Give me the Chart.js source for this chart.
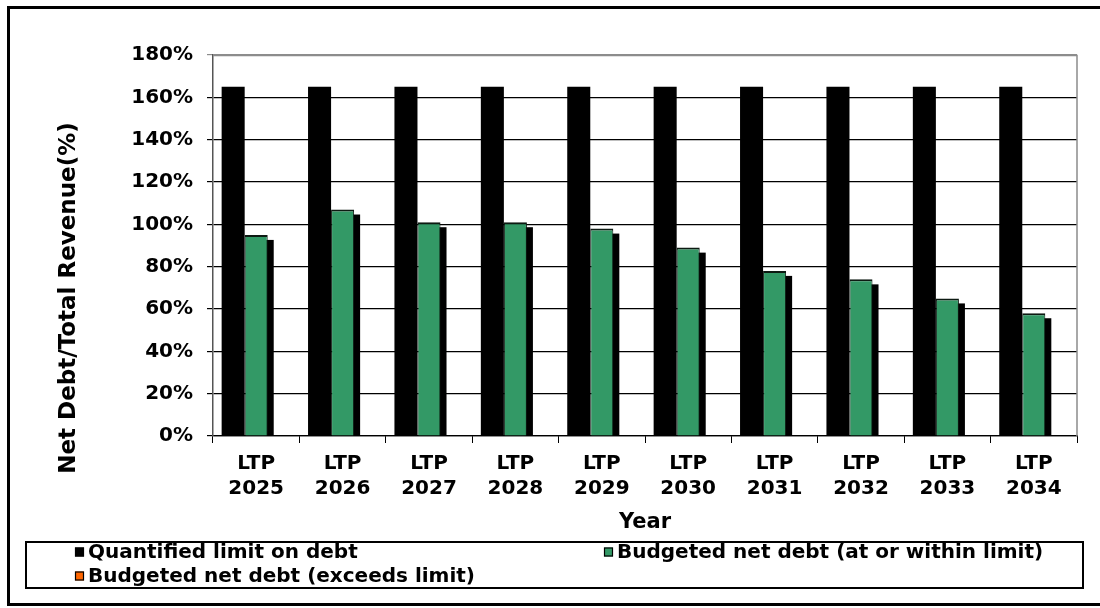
<!DOCTYPE html>
<html><head><meta charset="utf-8">
<script src="https://cdn.jsdelivr.net/npm/chart.js@4.4.1/dist/chart.umd.min.js"></script>
<style>html,body{margin:0;padding:0;background:#fff}#wrap{width:1100px;height:608px;position:relative}</style>
</head><body><div id="wrap"><canvas id="c" width="1100" height="608"></canvas></div>
<script>
const categories = [['LTP','2025'],['LTP','2026'],['LTP','2027'],['LTP','2028'],['LTP','2029'],['LTP','2030'],['LTP','2031'],['LTP','2032'],['LTP','2033'],['LTP','2034']];
const limitValues = [165,165,165,165,165,165,165,165,165,165];
const withinValues = [95,107,101,101,98,89,78,74,65,58];
const exceedsValues = [null,null,null,null,null,null,null,null,null,null];
const seriesNames = ['Quantified limit on debt','Budgeted net debt (at or within limit)','Budgeted net debt (exceeds limit)'];
const seriesColors = ['#000000','#339966','#FF6600'];
const yTickStep = 20;
const yMin = 0, yMax = 180;
const yTitle = 'Net Debt/Total Revenue(%)';
const xTitle = 'Year';

const FONT = "'DejaVu Sans', Verdana, sans-serif";
Chart.defaults.font.family = FONT;
Chart.defaults.color = '#000';

const shadowPlugin = {
  id: 'shadow',
  beforeDatasetDraw(chart, args) {
    if (args.index !== 1) return;
    const ctx = chart.ctx, a = chart.chartArea;
    ctx.save();
    ctx.beginPath(); ctx.rect(a.left, a.top, a.right - a.left, a.bottom - a.top); ctx.clip();
    ctx.fillStyle = '#000';
    args.meta.data.forEach(el => {
      const p = el.getProps(['x','y','base','width'], true);
      if (p.y == null || isNaN(p.y)) return;
      ctx.fillRect(p.x - p.width/2 + 6, p.y + 5, p.width, p.base - p.y);
    });
    ctx.restore();
  }
};

const framePlugin = {
  id: 'frame',
  beforeDatasetsDraw(chart) {
    const ctx = chart.ctx, a = chart.chartArea;
    ctx.save();
    ctx.strokeStyle = '#8c8c8c'; ctx.lineWidth = 1.5;
    ctx.beginPath();
    ctx.moveTo(a.left, a.top + 0.5); ctx.lineTo(a.right, a.top + 0.5); ctx.lineTo(a.right, a.bottom);
    ctx.stroke();
    ctx.restore();
  },
  afterDraw(chart) {
    const ctx = chart.ctx;
    ctx.save();
    // outer frame
    ctx.strokeStyle = '#000'; ctx.lineWidth = 3;
    ctx.beginPath();
    ctx.moveTo(1105, 7.5); ctx.lineTo(8.5, 7.5); ctx.lineTo(8.5, 604.5); ctx.lineTo(1105, 604.5);
    ctx.stroke();
    // y title
    ctx.save();
    ctx.translate(69, 298);
    ctx.rotate(-Math.PI/2);
    ctx.font = "bold 23px " + FONT;
    ctx.textAlign = 'center'; ctx.textBaseline = 'middle'; ctx.fillStyle = '#000';
    ctx.fillText(yTitle, 0, 0);
    ctx.restore();
    // legend box
    ctx.lineWidth = 2; ctx.strokeStyle = '#000';
    ctx.strokeRect(26, 542, 1057, 46);
    const pos = [[75, 552], [604, 552], [75, 576]];
    ctx.font = "bold 20px " + FONT;
    ctx.textBaseline = 'middle'; ctx.textAlign = 'left';
    chart.data.datasets.forEach((ds, i) => {
      const [x, y] = pos[i];
      ctx.fillStyle = ds.backgroundColor;
      ctx.fillRect(x, y - 4.5, 9, 9);
      ctx.lineWidth = 1.2; ctx.strokeStyle = '#000';
      ctx.strokeRect(x + 0.5, y - 4, 8, 8);
      ctx.fillStyle = '#000';
      ctx.fillText(ds.label, x + 13, y + 1);
    });
    ctx.restore();
  }
};

new Chart(document.getElementById('c'), {
  type: 'bar',
  data: {
    labels: categories,
    datasets: [
      { label: seriesNames[0], data: limitValues, backgroundColor: seriesColors[0], borderWidth: 0 },
      { label: seriesNames[1], data: withinValues, backgroundColor: seriesColors[1], borderColor: '#0d1a12', borderWidth: {top: 2, left: 1, right: 1, bottom: 0} },
      { label: seriesNames[2], data: exceedsValues, backgroundColor: seriesColors[2], borderColor: '#000', borderWidth: 1 }
    ]
  },
  options: {
    responsive: false,
    animation: false,
    devicePixelRatio: 1,
    datasets: { bar: { categoryPercentage: 0.8, barPercentage: 1.0 } },
    layout: { padding: { top: 55, right: 23, left: 0, bottom: 0 } },
    plugins: { legend: { display: false }, tooltip: { enabled: false } },
    scales: {
      x: {
        grid: { offset: true, drawOnChartArea: false, drawTicks: true, tickLength: 7, color: '#000' },
        border: { color: '#000', width: 1.2 },
        ticks: { font: { size: 20, weight: 'bold', lineHeight: 1.25 }, color: '#000', padding: 8, maxRotation: 0, autoSkip: false },
        title: { display: true, text: xTitle, font: { size: 21, weight: 'bold' }, color: '#000', padding: { top: 0, bottom: 73 } },
        afterFit(s) { s.height = 172; }
      },
      y: {
        min: yMin, max: yMax,
        ticks: { stepSize: yTickStep, callback: v => v + '%', font: { size: 20, weight: 'bold' }, color: '#000', padding: 14 },
        grid: { color: ctx => (ctx.tick && ctx.tick.value === yMax) ? '#8c8c8c' : '#000', lineWidth: 1.2, tickLength: 6 },
        border: { color: '#555', width: 1.5 },
        afterFit(s) { s.width = 213; }
      }
    }
  },
  plugins: [shadowPlugin, framePlugin]
});
</script></body></html>
